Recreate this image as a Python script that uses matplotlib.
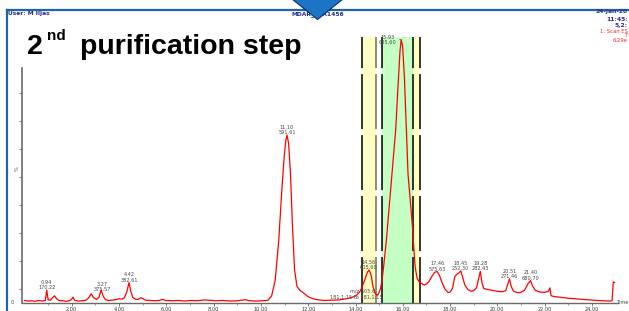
import numpy as np
import matplotlib
matplotlib.use("Agg")
import matplotlib.pyplot as plt
from matplotlib.patches import Polygon
from matplotlib.lines import Line2D

# ---------------------------------------------------------------------------
# data (time in min, intensity in %)
# ---------------------------------------------------------------------------
trace_time = [
    0.00, 0.15, 0.30, 0.45, 0.60, 0.75, 0.88, 0.94, 1.00, 1.10, 1.20, 1.27,
    1.35, 1.45, 1.60, 1.75, 1.90, 1.98, 2.05, 2.12, 2.25, 2.45, 2.60, 2.72,
    2.82, 2.92, 3.05, 3.15, 3.24, 3.32, 3.42, 3.55, 3.70, 3.85, 4.00, 4.12,
    4.22, 4.32, 4.42, 4.50, 4.58, 4.70, 4.82, 4.92, 5.00, 5.12, 5.30, 5.50,
    5.70, 5.85, 5.95, 6.20, 6.50, 6.80, 7.00, 7.30, 7.60, 7.80, 8.10, 8.40,
    8.70, 9.00, 9.20, 9.35, 9.50, 9.80, 10.10, 10.30, 10.45, 10.60, 10.75,
    10.88, 10.98, 11.05, 11.10, 11.17, 11.25, 11.33, 11.42, 11.52, 11.65,
    11.80, 12.00, 12.20, 12.45, 12.70, 13.00, 13.30, 13.60, 13.85, 14.05,
    14.18, 14.26, 14.40, 14.50, 14.57, 14.66, 14.74, 14.82, 14.89, 14.96,
    15.05, 15.12, 15.20, 15.30, 15.45, 15.60, 15.70, 15.80, 15.88, 15.93,
    15.99, 16.07, 16.17, 16.22, 16.34, 16.41, 16.47, 16.52, 16.60, 16.70,
    16.80, 16.90, 17.00, 17.10, 17.22, 17.35, 17.46, 17.55, 17.65, 17.78,
    17.90, 18.00, 18.10, 18.20, 18.30, 18.38, 18.45, 18.52, 18.62, 18.75,
    18.88, 19.00, 19.12, 19.20, 19.28, 19.34, 19.42, 19.60, 19.80, 20.00,
    20.20, 20.35, 20.44, 20.51, 20.58, 20.68, 20.85, 21.00, 21.15, 21.30,
    21.40, 21.48, 21.60, 21.80, 22.00, 22.15, 22.22, 22.27, 22.40, 22.70,
    23.00, 23.30, 23.60, 23.90, 24.20, 24.50, 24.75, 24.85, 24.90, 24.95,
]
trace_pct = [
    0.9, 0.7, 0.8, 0.6, 0.9, 0.7, 0.9, 4.6, 1.1, 1.0, 2.0, 2.6,
    1.6, 0.9, 0.8, 0.6, 0.8, 1.2, 2.1, 1.0, 0.7, 0.8, 1.0, 1.9,
    3.3, 1.9, 1.3, 2.0, 4.6, 2.6, 1.2, 0.9, 1.0, 1.2, 1.5, 1.4,
    1.8, 3.8, 7.3, 4.0, 2.0, 1.3, 1.3, 1.9, 1.6, 1.0, 0.9, 0.8,
    0.9, 1.3, 0.9, 0.8, 0.9, 0.7, 0.9, 0.8, 1.1, 1.0, 0.8, 0.9,
    0.7, 0.8, 1.0, 1.2, 0.8, 0.7, 0.8, 1.0, 2.5, 8.0, 22.0,
    40.0, 52.0, 58.0, 60.0, 57.0, 46.0, 28.0, 12.0, 6.0, 4.5,
    3.6, 2.2, 1.5, 1.1, 0.9, 1.0, 1.1, 1.5, 2.0, 2.8,
    4.0, 5.4, 8.5, 11.0, 11.8, 10.0, 5.8, 3.6, 2.9, 3.0,
    5.0, 8.0, 14.0, 22.0, 37.0, 52.0, 62.0, 78.0, 90.0, 94.0,
    92.0, 80.0, 58.0, 46.0, 34.0, 27.0, 19.0, 13.0, 9.0, 7.4,
    7.0, 6.4, 6.8, 7.6, 9.4, 11.0, 11.2, 9.8, 7.5, 5.0,
    3.8, 3.9, 5.2, 9.5, 10.4, 10.8, 11.5, 9.5, 6.5, 4.8,
    4.2, 4.4, 5.5, 8.5, 11.3, 7.5, 5.2, 4.8, 4.5, 4.2,
    4.0, 4.4, 6.8, 8.6, 6.0, 4.2, 3.7, 3.8, 4.6, 7.0,
    8.0, 6.2, 4.5, 3.9, 3.8, 4.1, 5.4, 2.6, 2.3, 2.0,
    1.7, 1.5, 1.3, 1.1, 0.9, 0.8, 0.7, 0.8, 7.5, 7.3,
]

peak_times = [0.94, 3.27, 4.42, 11.10, 14.56, 15.93, 17.46, 18.45, 19.28, 20.51, 21.40]
peak_time_text = ["0.94", "3.27", "4.42", "11.10", "14.56", "15.93",
                  "17.46", "18.45", "19.28", "20.51", "21.40"]
peak_mz_text = ["170.22", "375.57", "382.61", "591.61", "605.60", "605.60",
                "575.63", "252.30", "282.43", "271.46", "680.70"]

# fraction windows (min)
yellow_windows = [(14.26, 14.85), (16.44, 16.72)]
green_windows = [(15.10, 16.44)]
window_edges = [14.26, 14.85, 15.10, 16.44, 16.72]
edge_colors = ["black", "#6f6f52", "black", "black", "black"]

x_major = [2, 4, 6, 8, 10, 12, 14, 16, 18, 20, 22, 24]
x_minor = [1, 3, 5, 7, 9, 11, 13, 15, 17, 19, 21, 23]
y_ticks = [5, 15, 25, 35, 45, 55, 65, 75]

# ---------------------------------------------------------------------------
# figure (pixel helpers for the slide decoration)
# ---------------------------------------------------------------------------
plt.rcParams["lines.scale_dashes"] = False
W, H = 629, 311
fig = plt.figure(figsize=(W / 100, H / 100), dpi=100, facecolor="white")


def fx(px):
    return px / W


def fy(py):
    return 1 - py / H


BLUE = "#1f63ad"
NAVY = "#2a2a8c"

# slide frame
fig.add_artist(Line2D([fx(7), fx(W)], [fy(9.5), fy(9.5)], color=BLUE, lw=1.6))
fig.add_artist(Line2D([fx(7), fx(7)], [fy(9.5), fy(H)], color=BLUE, lw=1.6))

# header texts (the right column is only partly visible on the slide)
fig.text(fx(8), fy(13.3), "User: M Iljas", fontsize=4.3, fontweight="bold",
         color=NAVY, va="center", ha="left")
fig.text(fx(292), fy(14), "MDAR_LAA1456", fontsize=4.3, fontweight="bold",
         color=NAVY, va="center", ha="left")
fig.text(fx(628), fy(12), "24-Jan-20", fontsize=4.3, fontweight="bold",
         color=NAVY, va="center", ha="right")
fig.text(fx(628), fy(19.5), "11:45:", fontsize=4.3, fontweight="bold",
         color=NAVY, va="center", ha="right")
fig.text(fx(628), fy(25), "5,2:", fontsize=4.3, fontweight="bold",
         color=NAVY, va="center", ha="right")
fig.text(fx(628), fy(31.5), "1: Scan ES", fontsize=3.8, color="#ff2020",
         va="center", ha="right")
fig.text(fx(628), fy(35.8), "T", fontsize=3.8, color="#ff2020",
         va="center", ha="right")
fig.text(fx(628), fy(40), "6.29e", fontsize=3.8, color="#ff2020",
         va="center", ha="right")

# blue pointer on top
tri = Polygon([[fx(292), fy(-1)], [fx(343), fy(-1)], [fx(317.5), fy(19.5)]],
              closed=True, facecolor="#1c74c6", edgecolor="#0d2f66", lw=0.8,
              transform=fig.transFigure, zorder=10)
fig.add_artist(tri)

# title
TITLE_FONT = "Liberation Sans"
fig.text(fx(27), fy(53.5), "2", fontsize=20.5, fontweight="bold",
         family=TITLE_FONT, va="baseline", ha="left", zorder=11)
fig.text(fx(46.5), fy(40.5), "nd", fontsize=11, fontweight="bold",
         family=TITLE_FONT, va="baseline", ha="left", zorder=11)
fig.text(fx(80.5), fy(53.5), "purification step", fontsize=20.5, fontweight="bold",
         family=TITLE_FONT, va="baseline", ha="left", zorder=11)

# ---------------------------------------------------------------------------
# chromatogram axes
# ---------------------------------------------------------------------------
X0, X1 = -0.106, 25.1
Y1 = 97.5
BAND_TOP = 95.0
ax = fig.add_axes([fx(22), 1 - 303 / H, (618 - 22) / W, (303 - 30) / H])
ax.set_xlim(X0, X1)
ax.set_ylim(0, Y1)
ax.patch.set_alpha(0)

for lo, hi in yellow_windows:
    ax.axvspan(lo, hi, ymin=0, ymax=BAND_TOP / Y1, color="#ffffc4", lw=0, zorder=0)
for lo, hi in green_windows:
    ax.axvspan(lo, hi, ymin=0, ymax=BAND_TOP / Y1, color="#c4ffc4", lw=0, zorder=0)
for xe, ce in zip(window_edges, edge_colors):
    ax.axvline(xe, ymin=0, ymax=BAND_TOP / Y1, color=ce, lw=1.1,
               linestyle=(6.5, (39.6, 4.3)), zorder=1)

ax.plot(trace_time, trace_pct, color="#ff0000", lw=0.9, zorder=3)

# peak labels
LBL = dict(fontsize=3.6, color="#444444", ha="center", va="center", zorder=4)
for t, tt, mz in zip(peak_times, peak_time_text, peak_mz_text):
    h = np.interp(t, trace_time, trace_pct)
    if tt == "15.93":
        dx = -9.5  # label sits to the left of the main peak
        ax.annotate("", xy=(t, h), xytext=(-3.2, 0), textcoords="offset points",
                    arrowprops=dict(arrowstyle="-", color="#444444", lw=0.5))
        ax.annotate(tt, xy=(t, h), xytext=(dx, 1.7), textcoords="offset points", **LBL)
        ax.annotate(mz, xy=(t, h), xytext=(dx, -2.0), textcoords="offset points", **LBL)
        continue
    ax.annotate(mz, xy=(t, h), xytext=(0, 1.7), textcoords="offset points", **LBL)
    ax.annotate(tt, xy=(t, h), xytext=(0, 5.6), textcoords="offset points", **LBL)

ax.text(12.93, 2.2, "181,1:15 to 181,1:15", fontsize=3.6, color="#444444",
        ha="left", va="center", zorder=4)
ax.text(13.75, 4.4, "m/z 605.6", fontsize=3.6, color="#444444",
        ha="left", va="center", zorder=4)

# axes styling
for side in ["top", "right"]:
    ax.spines[side].set_visible(False)
ax.spines["left"].set_color("#6a6a6a")
ax.spines["bottom"].set_color("#6a6a6a")
ax.spines["left"].set_linewidth(1.2)
ax.spines["bottom"].set_linewidth(1.0)
ax.spines["left"].set_bounds(0, 83.9)

ax.set_xticks(x_major)
ax.set_xticklabels([f"{v:.2f}" for v in x_major])
ax.set_xticks(x_minor, minor=True)
ax.set_yticks(y_ticks)
ax.set_yticklabels([])
ax.tick_params(axis="x", which="major", length=2, width=0.6, pad=1,
               labelsize=3.6, colors="#6a6a6a", labelcolor="#333333")
ax.tick_params(axis="x", which="minor", length=1.2, width=0.5, colors="#6a6a6a")
ax.tick_params(axis="y", length=2.2, width=0.6, colors="#6a6a6a")

ax.text(-0.45, 0, "0", fontsize=3.6, color="#444444", ha="right", va="center")
ax.text(-0.2, 48, "%", fontsize=3.8, color="#444444", ha="right", va="center",
        rotation=90)
fig.text(fx(628), fy(303), "Time", fontsize=3.6, color="#444444",
         ha="right", va="center")

fig.savefig("out.png", dpi=100, facecolor="white")
